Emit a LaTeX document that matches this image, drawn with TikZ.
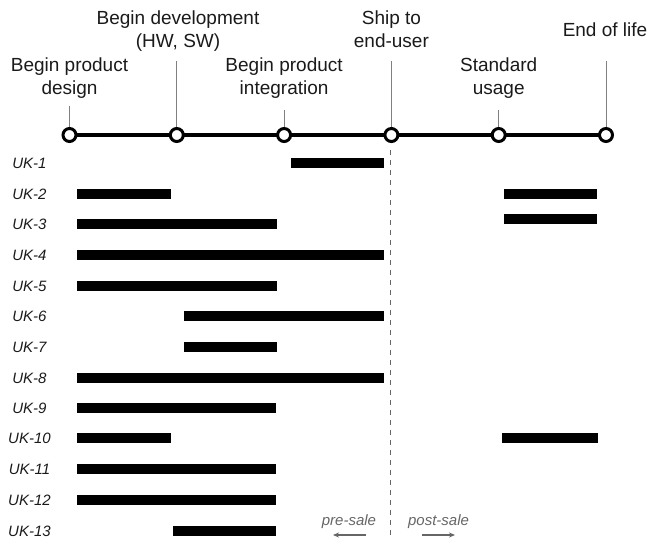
\documentclass[tikz,border=0pt]{standalone}
\usepackage{fontspec}
\setmainfont{Liberation Sans}
\usetikzlibrary{arrows.meta}
\definecolor{txt}{HTML}{1A1A1A}
\definecolor{tick}{HTML}{808080}
\definecolor{note}{HTML}{666666}
\begin{document}
\begin{tikzpicture}[x=1pt,y=-1pt,
  milestone/.style={circle,draw=black,line width=3pt,fill=white,minimum size=13pt,inner sep=0pt},
  toplabel/.style={align=center,text=txt,font=\fontsize{19}{23.5}\selectfont,inner sep=0pt,anchor=base},
  ticked/.style={draw=tick,line width=1pt},
  uklabel/.style={text=txt,font=\fontsize{15}{18}\selectfont\itshape,inner sep=0pt,anchor=base},
  bar/.style={fill=black},
  salelabel/.style={text=note,font=\fontsize{15}{18}\selectfont\itshape,inner sep=0pt,anchor=base},
  salearrow/.style={draw=note,line width=1.2pt,-{Stealth[length=6pt,width=5pt]}}
]
\useasboundingbox (0,0) rectangle (650,539);

% timeline
\coordinate (c1) at (69.5,135);
\coordinate (c2) at (176.8,135);
\coordinate (c3) at (284.1,135);
\coordinate (c4) at (391.4,135);
\coordinate (c5) at (498.7,135);
\coordinate (c6) at (606,135);
\draw[line width=4.5pt] (c1) -- (c6);

% tick tops
\coordinate (t1) at (69.5,106);
\coordinate (t2) at (176.8,61);
\coordinate (t3) at (284.1,110);
\coordinate (t4) at (391.4,61);
\coordinate (t5) at (498.7,110);
\coordinate (t6) at (606,61);
\foreach \i in {1,...,6} {\draw[ticked] (c\i) -- (t\i);}
\foreach \i in {1,...,6} {\node[milestone] (m\i) at (c\i) {};}

% labels (base anchor = baseline of last line)
\node[toplabel] (l1) at (69.5,94.5) {Begin product\\design};
\node[toplabel] (l2) at (178,47.5) {Begin development\\(HW, SW)};
\node[toplabel] (l3) at (284.1,94.5) {Begin product\\integration};
\node[toplabel] (l4) at (391.4,47.5) {Ship to\\end-user};
\node[toplabel] (l5) at (498.7,94.5) {Standard\\usage};
\node[toplabel] (l6) at (605,36) {End of life};

% dashed divider
\coordinate (d1) at (390.5,150);
\coordinate (d2) at (390.5,539);
\draw[draw=note,line width=1pt,dash pattern=on 5pt off 5pt] (d1) -- (d2);

% rows
\foreach \n/\y in {1/163,2/194,3/224,4/255,5/286,6/316,7/347,8/378,9/408,10/438,11/469,12/500,13/531} {
  \node[uklabel] (uk\n) at (29.5,\y+5.4) {UK-\n};
}
\fill[bar] (291,158) rectangle (384,168);
\fill[bar] (77,189) rectangle (171,199);
\fill[bar] (504,189) rectangle (597,199);
\fill[bar] (77,219) rectangle (277,229);
\fill[bar] (504,214) rectangle (597,224);
\fill[bar] (77,250) rectangle (384,260);
\fill[bar] (77,281) rectangle (277,291);
\fill[bar] (184,311) rectangle (384,321);
\fill[bar] (184,342) rectangle (277,352);
\fill[bar] (77,373) rectangle (384,383);
\fill[bar] (77,403) rectangle (276,413);
\fill[bar] (77,433) rectangle (171,443);
\fill[bar] (502,433) rectangle (598,443);
\fill[bar] (77,464) rectangle (276,474);
\fill[bar] (77,495) rectangle (276,505);
\fill[bar] (173,526) rectangle (276,536);

% pre/post sale
\node[salelabel] (pre) at (349,525.5) {pre-sale};
\node[salelabel] (post) at (438.5,525.5) {post-sale};
\coordinate (pa1) at (366,535);
\coordinate (pa2) at (333,535);
\coordinate (qa1) at (422,535);
\coordinate (qa2) at (455,535);
\draw[salearrow] (pa1) -- (pa2);
\draw[salearrow] (qa1) -- (qa2);
\end{tikzpicture}
\end{document}
